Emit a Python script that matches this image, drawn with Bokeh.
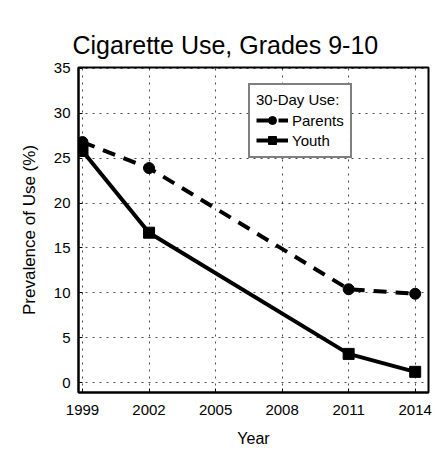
from bokeh.plotting import figure
from bokeh.models import FixedTicker, Range1d, Legend, LegendItem
from bokeh.embed import file_html
from bokeh.resources import INLINE

years = [1999, 2002, 2011, 2014]
parents = [26.8, 23.9, 10.4, 9.9]
youth = [25.8, 16.7, 3.2, 1.2]
x_ticks = [1999, 2002, 2005, 2008, 2011, 2014]
y_ticks = [0, 5, 10, 15, 20, 25, 30, 35]

FONT = "Liberation Sans"

p = figure(frame_width=350, frame_height=325, output_backend="svg", toolbar_location=None,
           x_range=Range1d(1998.82, 2014.6), y_range=Range1d(-1.1, 35.1),
           min_border_left=78, min_border_right=8, min_border_top=67, min_border_bottom=68)

p.title.text = "Cigarette Use, Grades 9-10"
p.title.text_font = FONT
p.title.text_font_size = "25px"
p.title.text_font_style = "normal"
p.title.text_color = "black"
p.title.align = "left"
p.title.offset = -6
p.title.standoff = 18

lp = p.line(years, parents, line_color="black", line_width=4, line_dash="13 9")
mp = p.scatter(years, parents, marker="circle", size=11, color="black")
ly = p.line(years, youth, line_color="black", line_width=4)
my = p.scatter(years, youth, marker="square", size=11, color="black")

p.xaxis.ticker = FixedTicker(ticks=x_ticks)
p.yaxis.ticker = FixedTicker(ticks=y_ticks)
for ax in (p.xaxis, p.yaxis):
    ax.major_label_text_font = FONT
    ax.major_label_text_font_size = "15px"
    ax.major_label_text_color = "black"
    ax.axis_label_text_font = FONT
    ax.axis_label_text_font_size = "16px"
    ax.axis_label_text_font_style = "normal"
    ax.axis_label_text_color = "black"
    ax.axis_line_color = "black"
    ax.axis_line_width = 2
    ax.major_tick_in = 4
    ax.major_tick_out = 0
    ax.minor_tick_line_color = None
    ax.major_tick_line_color = "black"
p.xaxis.axis_label = "Year"
p.yaxis.axis_label = "Prevalence of Use (%)"
p.yaxis.axis_label_text_font_size = "17px"
p.xaxis.major_label_standoff = 12
p.xaxis.axis_label_standoff = 12
p.yaxis.major_label_standoff = 8
p.yaxis.axis_label_standoff = 12

p.xgrid.grid_line_color = "black"
p.ygrid.grid_line_color = "black"
p.xgrid.grid_line_dash = "2 5"
p.ygrid.grid_line_dash = "2 5"
p.xgrid.grid_line_alpha = 0.7
p.ygrid.grid_line_alpha = 0.7

p.outline_line_color = "black"
p.outline_line_width = 2

legend = Legend(items=[LegendItem(label="Parents", renderers=[lp, mp]),
                       LegendItem(label="Youth", renderers=[ly, my])],
                location=(170, 234))
legend.title = "30-Day Use:"
legend.title_text_font = FONT
legend.title_text_font_size = "15px"
legend.title_text_font_style = "normal"
legend.title_text_color = "black"
legend.label_text_font = FONT
legend.label_text_font_size = "15px"
legend.label_text_color = "black"
legend.border_line_color = "black"
legend.border_line_width = 2
legend.padding = 6
legend.spacing = 0
legend.label_height = 20
legend.glyph_height = 20
legend.glyph_width = 32
legend.label_standoff = 4
legend.title_standoff = 2
p.add_layout(legend)

p.background_fill_color = "white"
p.border_fill_color = "white"

open("out.html", "w").write(file_html(p, INLINE))
